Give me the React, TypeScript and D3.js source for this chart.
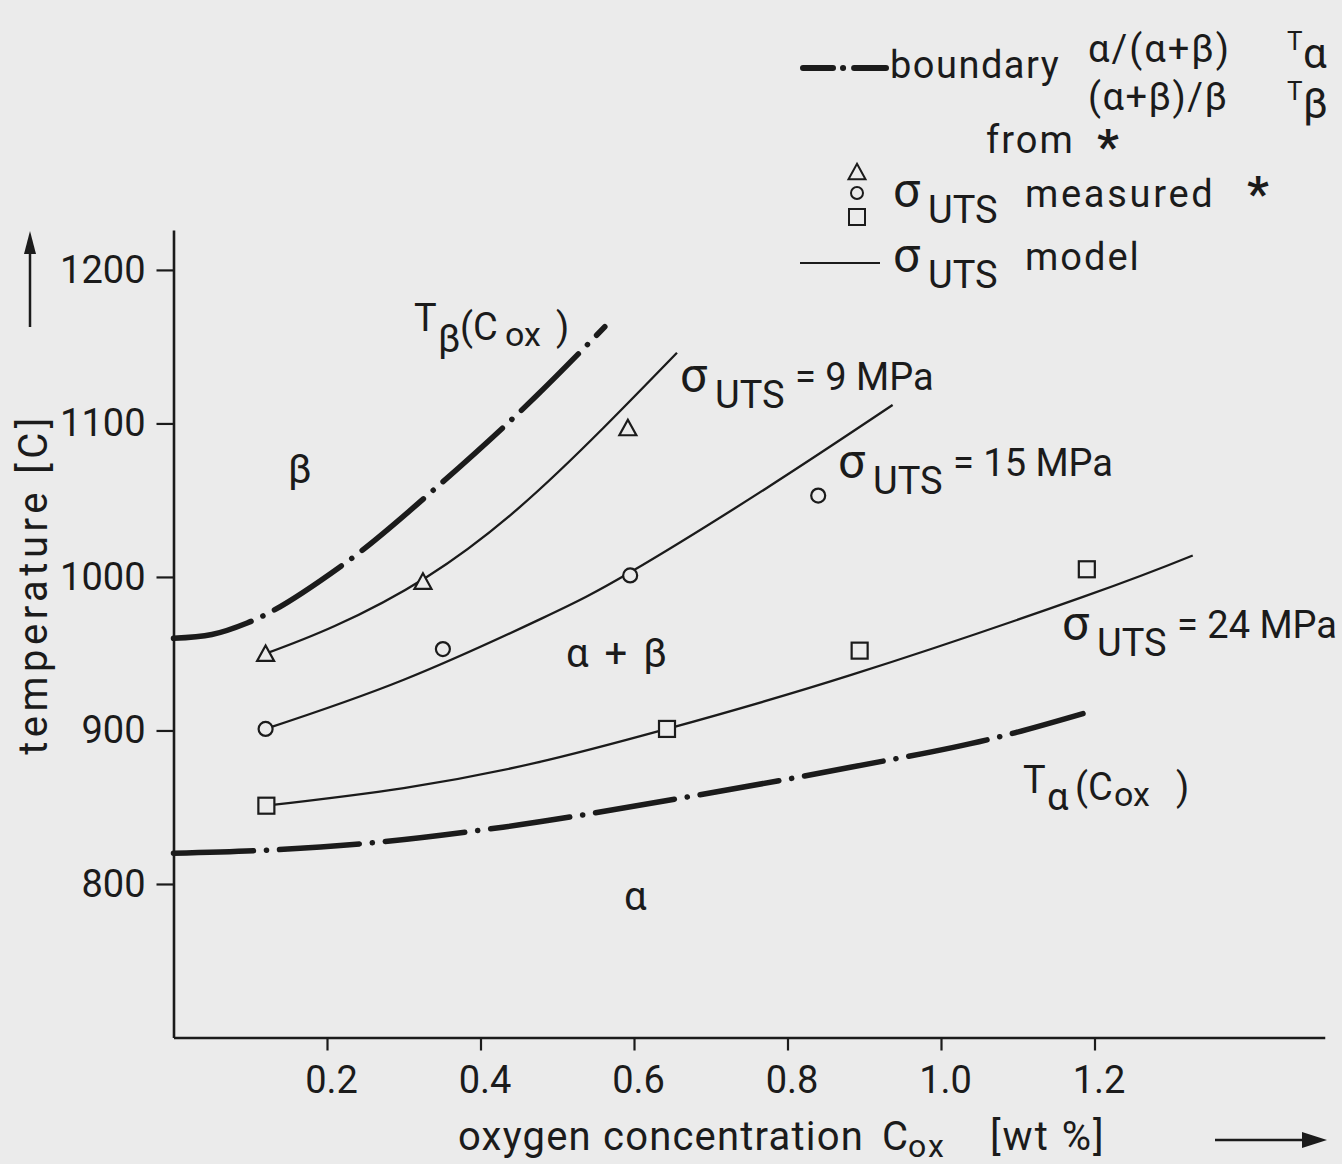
import { useEffect, useRef } from "react";
import * as d3 from "d3";

const W = 1342;
const H = 1164;
const INK = "#1b1b1b";
const BG = "#ebebeb";
const FONT = "Roboto, 'DejaVu Sans', sans-serif";

// axes
const xTicks = [0.2, 0.4, 0.6, 0.8, 1.0, 1.2];
const yTicks = [800, 900, 1000, 1100, 1200];

// phase boundaries, oxygen [wt %] / temperature [C]
const tBetaC = [0, 0.05, 0.096, 0.221, 0.351, 0.473, 0.562];
const tBetaT = [960, 962.5, 970, 1008, 1062, 1118, 1163];
const tAlphaC = [0, 0.12, 0.256, 0.429, 0.673, 0.882, 1.077, 1.185];
const tAlphaT = [820, 822, 826.7, 837, 857, 876, 896, 911];

// sigma_UTS model curves
const m9C = [0.12, 0.21, 0.33, 0.45, 0.56, 0.656];
const m9T = [950, 968, 1000, 1045, 1097, 1146];
const m15C = [0.12, 0.3, 0.48, 0.595, 0.77, 0.937];
const m15T = [901, 933, 973, 1003, 1057, 1112];
const m24C = [0.12, 0.3, 0.473, 0.643, 0.882, 1.185, 1.328];
const m24T = [851, 862.5, 879, 901, 936, 987, 1014];

// sigma_UTS measured
const triC = [0.12, 0.325, 0.592];
const triT = [950, 997, 1097];
const circC = [0.12, 0.351, 0.595, 0.84];
const circT = [901, 953, 1001, 1053];
const sqC = [0.121, 0.643, 0.894, 1.19];
const sqT = [851, 901, 952, 1005];

const zip = (c: number[], t: number[]) => c.map((v, i) => [v, t[i]] as [number, number]);

const x = d3.scaleLinear().domain([0, 1.5]).range([173.5, 1324.75]);
const y = d3.scaleLinear().domain([700, 1226]).range([1037.5, 230]);

// boundaries keep their flat start, model curves are smooth splines
const boundaryLine = d3
  .line<[number, number]>()
  .x((d) => x(d[0]))
  .y((d) => y(d[1]))
  .curve(d3.curveMonotoneX);

const modelLine = d3
  .line<[number, number]>()
  .x((d) => x(d[0]))
  .y((d) => y(d[1]))
  .curve(d3.curveNatural);

const boundaryDash = "80,13,0.1,13";

const SigmaLabel = ({ x0, y0, rest }: { x0: number; y0: number; rest?: string }) => (
  <g>
    <text x={x0} y={y0} fontSize={48}>σ</text>
    <text x={x0 + 35} y={y0 + 16}>UTS</text>
    {rest && <text x={x0 + 115} y={y0 - 2}>{rest}</text>}
  </g>
);

const App = () => {
  const xRef = useRef<SVGGElement>(null);
  const yRef = useRef<SVGGElement>(null);

  useEffect(() => {
    const xAxis = d3
      .axisBottom(x)
      .tickValues(xTicks)
      .tickFormat(d3.format(".1f"))
      .tickSize(13)
      .tickSizeOuter(0)
      .tickPadding(16);
    const gx = d3.select(xRef.current).call(xAxis as any);
    gx.attr("font-family", null).attr("font-size", null);
    gx.select(".domain").attr("stroke", INK).attr("stroke-width", 2.6);
    gx.selectAll(".tick line").attr("stroke", INK).attr("stroke-width", 2.2);
    gx.selectAll(".tick text").attr("fill", INK).attr("dx", 4);

    const yAxis = d3
      .axisLeft(y)
      .tickValues(yTicks)
      .tickFormat(d3.format("d"))
      .tickSize(17)
      .tickSizeOuter(0)
      .tickPadding(11);
    const gy = d3.select(yRef.current).call(yAxis as any);
    gy.attr("font-family", null).attr("font-size", null);
    gy.select(".domain").attr("stroke", INK).attr("stroke-width", 2.6);
    gy.selectAll(".tick line").attr("stroke", INK).attr("stroke-width", 2.2);
    gy.selectAll(".tick text").attr("fill", INK);
  }, []);

  const tri = (cx: number, cy: number) => {
    const s = 17;
    const h = s * 0.85;
    return `M${cx},${cy - h / 2 - 1}L${cx + s / 2},${cy + h / 2}L${cx - s / 2},${cy + h / 2}Z`;
  };

  return (
    <svg
      width={W}
      height={H}
      viewBox={`0 0 ${W} ${H}`}
      style={{ position: "absolute", left: 0, top: 0, display: "block" }}
      fontFamily={FONT}
      fontSize={38}
      fill={INK}
    >
      <rect width={W} height={H} fill={BG} />

      <g ref={xRef} transform={`translate(0,${y(700)})`} />
      <g ref={yRef} transform={`translate(${x(0)},0)`} />

      {/* phase boundaries */}
      <g fill="none" stroke={INK} strokeWidth={5.5} strokeLinecap="round" strokeDasharray={boundaryDash}>
        <path d={boundaryLine(zip(tBetaC, tBetaT)) ?? ""} />
        <path d={boundaryLine(zip(tAlphaC, tAlphaT)) ?? ""} />
      </g>

      {/* model curves */}
      <g fill="none" stroke={INK} strokeWidth={2.3}>
        <path d={modelLine(zip(m9C, m9T)) ?? ""} />
        <path d={modelLine(zip(m15C, m15T)) ?? ""} />
        <path d={modelLine(zip(m24C, m24T)) ?? ""} />
      </g>

      {/* measured points */}
      <g fill={BG} stroke={INK} strokeWidth={2.2}>
        {triC.map((c, i) => (
          <path key={`t${i}`} d={tri(x(c), y(triT[i]))} />
        ))}
        {circC.map((c, i) => (
          <circle key={`c${i}`} cx={x(c)} cy={y(circT[i])} r={7} />
        ))}
        {sqC.map((c, i) => (
          <rect key={`s${i}`} x={x(c) - 8} y={y(sqT[i]) - 8} width={16} height={16} />
        ))}
      </g>

      {/* region labels */}
      <text x={288} y={483} fontSize={40}>β</text>
      <text x={566} y={667} fontSize={40} letterSpacing={3}>α + β</text>
      <text x={624} y={910} fontSize={40}>α</text>

      {/* boundary labels */}
      <g>
        <text x={414} y={331}>T</text>
        <text x={438} y={352}>β</text>
        <text x={460} y={340}>(C</text>
        <text x={505} y={346} fontSize={34}>ox</text>
        <text x={556} y={340}>)</text>

        <text x={1023} y={793}>T</text>
        <text x={1047} y={810}>α</text>
        <text x={1075} y={800}>(C</text>
        <text x={1114} y={806} fontSize={34}>ox</text>
        <text x={1176} y={800}>)</text>
      </g>

      {/* model labels */}
      <SigmaLabel x0={680} y0={392} rest="= 9 MPa" />
      <SigmaLabel x0={838} y0={478} rest="= 15 MPa" />
      <SigmaLabel x0={1062} y0={640} rest="= 24 MPa" />

      {/* legend */}
      <path
        d="M803,68H886"
        fill="none"
        stroke={INK}
        strokeWidth={6}
        strokeLinecap="round"
        strokeDasharray="30,10,0.1,11,40"
      />
      <g letterSpacing={1.5}>
        <text x={890} y={78}>boundary</text>
        <text x={1088} y={62} letterSpacing={2}>α/(α+β)</text>
        <text x={1088} y={110}>(α+β)/β</text>
        <text x={986} y={153} letterSpacing={2}>from</text>
        <text x={1025} y={207} letterSpacing={2.7}>measured</text>
        <text x={1025} y={270} letterSpacing={2}>model</text>
      </g>
      <text x={1287} y={50} fontSize={26}>T</text>
      <text x={1303} y={68} fontSize={42}>α</text>
      <text x={1287} y={100} fontSize={26}>T</text>
      <text x={1303} y={118} fontSize={42}>β</text>
      <text x={1097} y={163} fontSize={48} fontWeight={700}>*</text>
      <text x={1247} y={210} fontSize={48} fontWeight={700}>*</text>

      <g fill="none" stroke={INK} strokeWidth={2}>
        <path d={tri(857, 172)} />
        <circle cx={857} cy={193} r={6} />
        <rect x={849} y={209} width={16} height={16} />
      </g>
      <SigmaLabel x0={893} y0={207} />

      <path d="M800,263H880" stroke={INK} strokeWidth={2.2} />
      <SigmaLabel x0={893} y0={272} />

      {/* axis titles */}
      <text
        transform="translate(47,584) rotate(-90)"
        textAnchor="middle"
        fontSize={40}
        letterSpacing={4.5}
      >
        temperature [C]
      </text>
      <path d="M30,327V250" stroke={INK} strokeWidth={2.5} />
      <path d="M30,231L24,254H36Z" />

      <text x={458} y={1150} fontSize={40} letterSpacing={1.2}>
        oxygen concentration
      </text>
      <text x={882} y={1150} fontSize={40}>C</text>
      <text x={908} y={1157} fontSize={32} letterSpacing={2}>ox</text>
      <text x={990} y={1150} fontSize={40} letterSpacing={2}>[wt %]</text>
      <path d="M1215,1140H1305" stroke={INK} strokeWidth={2.5} />
      <path d="M1327,1140L1302,1132V1148Z" />
    </svg>
  );
};

export default App;
